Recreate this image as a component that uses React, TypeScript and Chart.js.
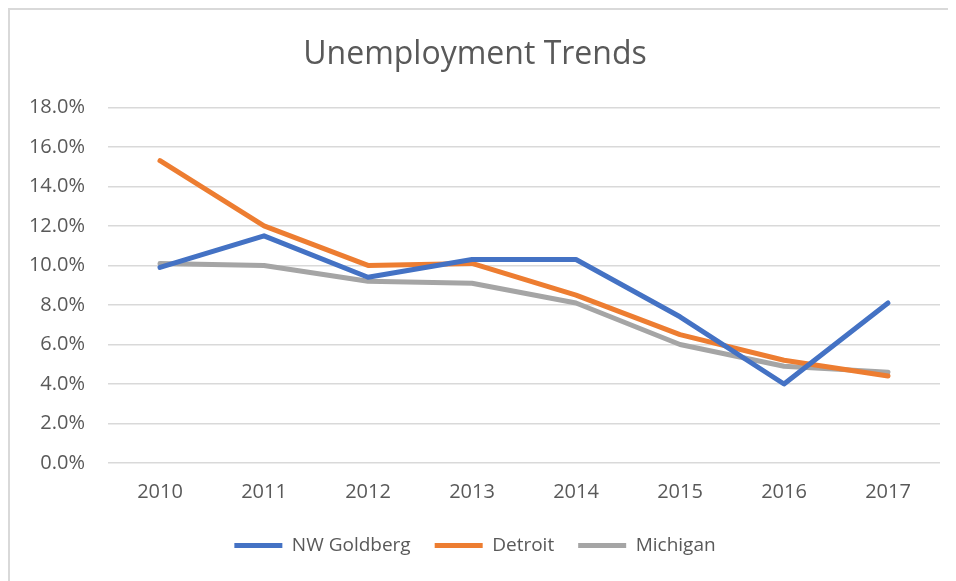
import React, { useEffect, useRef } from "react";
import { Chart, registerables } from "chart.js";

Chart.register(...registerables);

const years = ["2010", "2011", "2012", "2013", "2014", "2015", "2016", "2017"];
const nwGoldberg = [9.9, 11.5, 9.4, 10.3, 10.3, 7.4, 4.0, 8.1];
const detroit = [15.3, 12.0, 10.0, 10.1, 8.5, 6.5, 5.2, 4.4];
const michigan = [10.1, 10.0, 9.2, 9.1, 8.1, 6.0, 4.9, 4.6];
const yMin = 0;
const yMax = 18;
const yStep = 2;

const FONT = "'Open Sans', 'Noto Sans', sans-serif";
const TEXT = "#595959";

export default function App() {
  const ref = useRef<HTMLCanvasElement | null>(null);

  useEffect(() => {
    document.documentElement.style.overflow = "hidden";
    document.body.style.overflow = "hidden";
    const canvas = ref.current;
    if (!canvas) return;
    const mk = (label: string, data: number[], color: string) => ({
      label,
      data,
      borderColor: color,
      backgroundColor: color,
      borderWidth: 5,
      pointRadius: 0,
      pointHoverRadius: 0,
      borderCapStyle: "round" as const,
      borderJoinStyle: "round" as const,
      tension: 0,
      fill: false,
    });
    const chart = new Chart(canvas, {
      type: "line",
      data: {
        labels: years,
        datasets: [
          mk("NW Goldberg", nwGoldberg, "#4472C4"),
          mk("Detroit", detroit, "#ED7D31"),
          mk("Michigan", michigan, "#A5A5A5"),
        ],
      },
      options: {
        responsive: false,
        animation: false,
        devicePixelRatio: 1,
        layout: { padding: { left: 0, right: 16, top: 0, bottom: 16 } },
        plugins: {
          tooltip: { enabled: false },
          title: {
            display: true,
            text: "Unemployment Trends",
            color: TEXT,
            font: { family: FONT, size: 32, weight: "normal", lineHeight: 1.2 },
            padding: { top: 26, bottom: 33 },
          },
          legend: {
            position: "bottom",
            labels: {
              usePointStyle: true,
              pointStyle: "line",
              pointStyleWidth: 48,
              padding: 24,
              color: TEXT,
              font: { family: FONT, size: 19 },
            },
          },
        },
        scales: {
          x: {
            offset: true,
            grid: { display: false, drawTicks: false },
            border: { display: false },
            ticks: {
              color: TEXT,
              padding: 17,
              maxRotation: 0,
              font: { family: FONT, size: 20, lineHeight: 1.2 },
            },
            afterFit: (s: any) => {
              s.height = 49;
            },
          },
          y: {
            min: yMin,
            max: yMax,
            grid: { color: "#d9d9d9", lineWidth: 1.5, drawTicks: false },
            border: { display: false },
            ticks: {
              stepSize: yStep,
              color: TEXT,
              padding: 23,
              font: { family: FONT, size: 20 },
              callback: (v: any) => Number(v).toFixed(1) + "%",
            },
            afterFit: (s: any) => {
              s.width = 98;
            },
          },
        },
      },
    });
    return () => chart.destroy();
  }, []);

  return (
    <div
      style={{
        width: 948,
        height: 573,
        boxSizing: "border-box",
        borderTop: "2px solid #d9d9d9",
        borderLeft: "2px solid #d9d9d9",
        background: "#fff",
      }}
    >
      <canvas ref={ref} width={946} height={571} style={{ display: "block" }} />
    </div>
  );
}
